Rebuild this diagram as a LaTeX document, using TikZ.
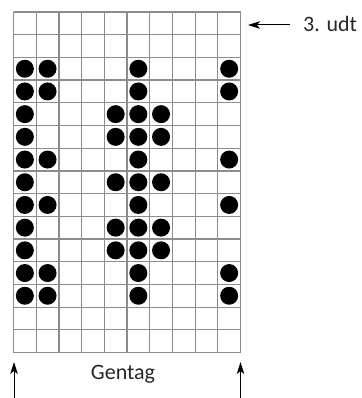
\documentclass[tikz,border=0pt]{standalone}
\usepackage{fontspec}
\setmainfont{Carlito}
\usetikzlibrary{arrows.meta}

\begin{document}
\begin{tikzpicture}[x=1pt, y=-1pt,
                gridline/.style={draw=black!45, line width=1.2pt},
                dot/.style={fill=black},
                pointer/.style={line width=1pt, -{Stealth[length=12pt, width=7.5pt, inset=3pt]}},
                label/.style={font=\fontsize{22}{26}\selectfont, inner sep=0pt, text=black!85}
            ]
            \useasboundingbox (0,0) rectangle (361,398);

            % Rutenett, 10 x 15 felter
            \begin{scope}[shift={(13.5,12)}, x=22.7pt, y=-22.7pt]
                \foreach \c in {0,...,10}
                    \draw[gridline] (\c,0) -- (\c,15);
                \foreach \r in {0,...,15}
                    \draw[gridline] (0,\r) -- (10,\r);

                % Prikker
                \foreach \r/\cols in {3/{1,2,6,10}, 4/{1,2,6,10}, 5/{1,5,6,7}, 6/{1,5,6,7},
                                      7/{1,2,6,10}, 8/{1,5,6,7}, 9/{1,2,6,10}, 10/{1,5,6,7},
                                      11/{1,5,6,7}, 12/{1,2,6,10}, 13/{1,2,6,10}}
                    \foreach \c in \cols
                        \fill[dot] (\c-0.5,\r-0.5) circle[radius=9pt];
            \end{scope}

            % Tekster
            \node[label, anchor=base west] (udt) at (303,32) {3. udt};
            \node[label, anchor=base] (gentag) at (123,379.5) {Gentag};

            % Pile
            \coordinate (udt tail) at (290,25);
            \coordinate (udt tip) at (248,25);
            \coordinate (left tail) at (14,398);
            \coordinate (left tip) at (14,362);
            \coordinate (right tail) at (240.5,398);
            \coordinate (right tip) at (240.5,362);

            \draw[pointer] (udt tail) -- (udt tip);
            \draw[pointer] (left tail) -- (left tip);
            \draw[pointer] (right tail) -- (right tip);

        \end{tikzpicture}
\end{document}
